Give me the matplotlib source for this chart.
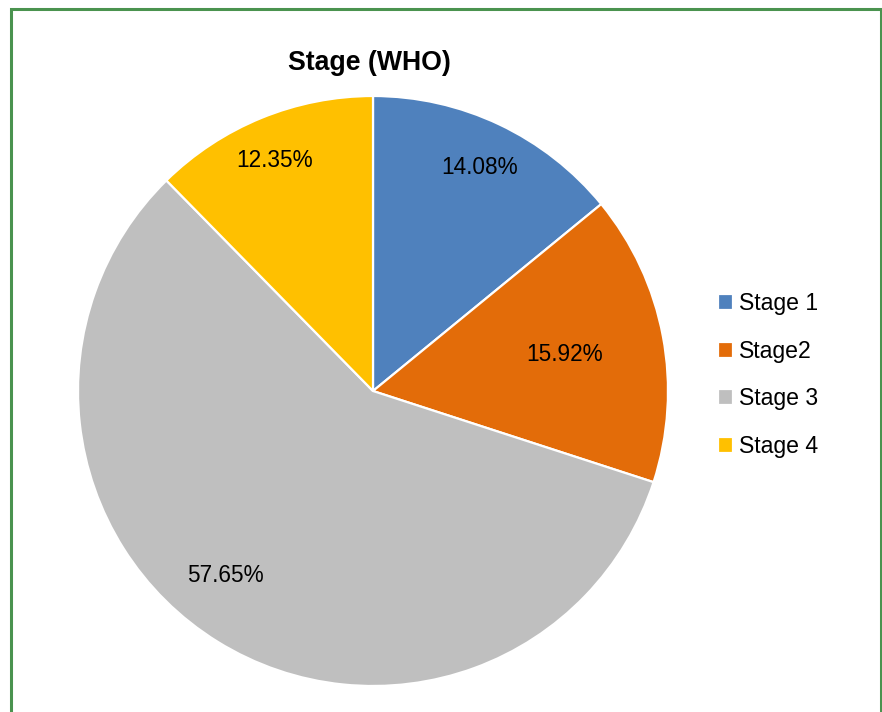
import matplotlib
matplotlib.use("Agg")
import matplotlib.pyplot as plt
from matplotlib.patches import Rectangle
import numpy as np

plt.rcParams['font.family'] = ['Liberation Sans', 'DejaVu Sans']

categories = ["Stage 1", "Stage2", "Stage 3", "Stage 4"]
values = [14.08, 15.92, 57.65, 12.35]
colors = ["#4f81bd", "#e36c09", "#bfbfbf", "#ffc000"]
label_radius = [0.84, 0.66, 0.80, 0.85]
label_angle_shift = [0.0, 0.0, -7.0, 1.0]

fig = plt.figure(figsize=(8.82, 7.12), dpi=100)
ax = fig.add_axes([78/882, 26/712, 590/882, 590/712])

wedges, _ = ax.pie(values, colors=colors, startangle=90, counterclock=False,
                   wedgeprops=dict(edgecolor="white", linewidth=1.6))
ax.set_xlim(-1, 1)
ax.set_ylim(-1, 1)
ax.set_aspect("equal")

for w, v, r, da in zip(wedges, values, label_radius, label_angle_shift):
    ang = np.deg2rad((w.theta1 + w.theta2) / 2 + da)
    ax.text(r * np.cos(ang), r * np.sin(ang), f"{v:.2f}%", ha="center", va="center",
            fontsize=16.3, color="black")

fig.text(369/882, 1 - 63/712, "Stage (WHO)", ha="center", va="center",
         fontsize=19.2, fontweight="bold")

leg = fig.legend(wedges, categories, loc="center left", bbox_to_anchor=(709/882, 1 - 375/712),
                 frameon=False, fontsize=16.6, handlelength=0.62, handleheight=0.7,
                 handletextpad=0.28, labelspacing=1.07, borderaxespad=0)

fig.patches.append(Rectangle((10.5/882, -0.05), 870/882, 1.05 - 8.5/712,
                             transform=fig.transFigure, fill=False,
                             edgecolor="#4a934f", linewidth=2.2))

fig.savefig("out.png", dpi=100)
